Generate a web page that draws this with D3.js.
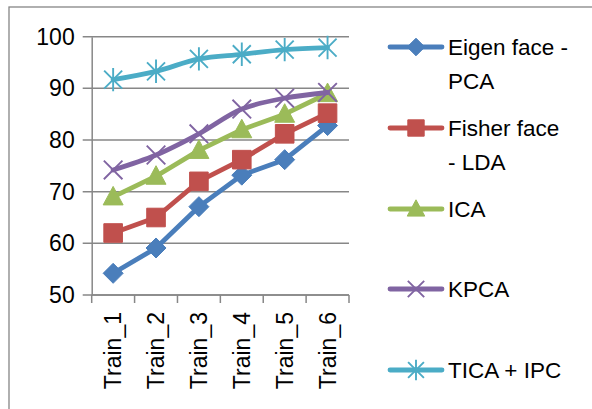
<!DOCTYPE html>
<html><head><meta charset="utf-8">
<script src="https://cdn.jsdelivr.net/npm/d3@7"></script>
<style>body{margin:0;background:#fff}svg{display:block}</style>
</head><body>
<script>
const categories = ["Train_1","Train_2","Train_3","Train_4","Train_5","Train_6"];
const eigenPCA = [54.2, 59.1, 67.1, 73.2, 76.2, 82.8];
const fisherLDA = [62, 65, 72, 76.2, 81.2, 85.2];
const ica = [69, 73, 78, 82, 85, 89];
const kpca = [74.2, 77.1, 81.2, 86, 88.1, 89.2];
const ticaIPC = [91.7, 93.3, 95.7, 96.6, 97.5, 97.9];
const yTicks = [50, 60, 70, 80, 90, 100];
const seriesNames = ["Eigen face -\nPCA", "Fisher face\n- LDA", "ICA", "KPCA", "TICA + IPC"];

const series = [
  {name: seriesNames[0], values: eigenPCA, color: "#4A7EBB", marker: "diamond", smooth: false},
  {name: seriesNames[1], values: fisherLDA, color: "#C0504D", marker: "square", smooth: false},
  {name: seriesNames[2], values: ica, color: "#9BBB59", marker: "triangle", smooth: false},
  {name: seriesNames[3], values: kpca, color: "#8064A2", marker: "x", smooth: true},
  {name: seriesNames[4], values: ticaIPC, color: "#4BACC6", marker: "star", smooth: true}
];

const W = 592, H = 409;
const svg = d3.select("body").append("svg").attr("width", W).attr("height", H);
const font = "'Liberation Sans', Arial, sans-serif";

// chart border
svg.append("rect").attr("x", 9).attr("y", 7).attr("width", 600).attr("height", 420)
  .attr("fill", "none").attr("stroke", "#868686").attr("stroke-width", 1.3);

const plot = {left: 91.7, right: 349, top: 36.7, bottom: 295};
const x = d3.scaleBand().domain(categories).range([plot.left, plot.right]);
const y = d3.scaleLinear().domain([50, 100]).range([plot.bottom, plot.top]);

// gridlines
svg.append("g").selectAll("line").data(yTicks).join("line")
  .attr("x1", plot.left - 9).attr("x2", plot.right)
  .attr("y1", d => y(d)).attr("y2", d => y(d))
  .attr("stroke", "#878787").attr("stroke-width", 1.5);

// y axis
const yAxis = d3.axisLeft(y).tickValues(yTicks).tickSize(0).tickPadding(17);
const gy = svg.append("g").attr("transform", `translate(${plot.left},0)`).call(yAxis);
gy.select(".domain").attr("stroke", "#878787").attr("stroke-width", 1.5);
gy.selectAll("text").attr("font-family", font).attr("font-size", 23).attr("fill", "#000");

// x axis
const xAxis = d3.axisBottom(x).tickSize(0).tickPadding(0);
const gx = svg.append("g").attr("transform", `translate(0,${plot.bottom})`).call(xAxis);
gx.select(".domain").attr("stroke", "#878787").attr("stroke-width", 1.5).attr("d", `M${plot.left},0H${plot.right}`);
gx.selectAll(".tick line").remove();
gx.selectAll(".tick text")
  .attr("font-family", font).attr("font-size", 23).attr("fill", "#000")
  .attr("text-anchor", "end").attr("dominant-baseline", "central")
  .attr("transform", "translate(0,17) rotate(-90)").attr("dy", null).attr("y", 0).attr("x", 0);
// category boundary ticks
const bounds = categories.map(c => x(c)).concat([x(categories[categories.length-1]) + x.bandwidth()]);
svg.append("g").selectAll("line").data(bounds).join("line")
  .attr("x1", d => d).attr("x2", d => d).attr("y1", plot.bottom).attr("y2", plot.bottom + 8)
  .attr("stroke", "#878787").attr("stroke-width", 1.5);

function markerPath(type, s) {
  switch (type) {
    case "diamond": return `M0,${-s}L${s},0L0,${s}L${-s},0Z`;
    case "square": return `M${-s},${-s}H${s}V${s}H${-s}Z`;
    case "triangle": return `M0,${-s*1.1}L${s*1.05},${s*0.85}L${-s*1.05},${s*0.85}Z`;
    case "x": return `M${-s},${-s}L${s},${s}M${-s},${s}L${s},${-s}`;
    case "star": return `M${-s},${-s}L${s},${s}M${-s},${s}L${s},${-s}M0,${-s*1.3}V${s*1.3}`;
  }
}
function drawMarker(g, type, color, cx, cy, scale) {
  const filled = type === "diamond" || type === "square" || type === "triangle";
  const size = {diamond: 10, square: 9.3, triangle: 9.5, x: 9.3, star: 9}[type] * scale;
  g.append("path").attr("d", markerPath(type, size))
    .attr("transform", `translate(${cx},${cy})`)
    .attr("fill", filled ? color : "none")
    .attr("stroke", color).attr("stroke-width", filled ? 1 : 1.9);
}

const cx = c => x(c) + x.bandwidth() / 2;
series.forEach(s => {
  const line = d3.line().x((d, i) => cx(categories[i])).y(d => y(d))
    .curve(s.smooth ? d3.curveCatmullRom.alpha(0.5) : d3.curveLinear);
  svg.append("path").datum(s.values).attr("d", line)
    .attr("fill", "none").attr("stroke", s.color).attr("stroke-width", 4.8)
    .attr("stroke-linejoin", "round").attr("stroke-linecap", "round");
  const g = svg.append("g");
  s.values.forEach((v, i) => drawMarker(g, s.marker, s.color, cx(categories[i]), y(v), 1));
});

// legend
const legendY = [47, 128, 209, 289, 370];
series.forEach((s, i) => {
  const ly = legendY[i];
  const g = svg.append("g");
  g.append("line").attr("x1", 390).attr("x2", 442).attr("y1", ly).attr("y2", ly)
    .attr("stroke", s.color).attr("stroke-width", 4.8).attr("stroke-linecap", "round");
  drawMarker(g, s.marker, s.color, 416, ly, 0.88);
  const lines = s.name.split("\n");
  lines.forEach((t, j) => {
    g.append("text").attr("x", 448).attr("y", ly + j * 34).attr("dominant-baseline", "central")
      .attr("font-family", font).attr("font-size", 22.5).attr("fill", "#000").text(t);
  });
});
</script>
</body></html>
